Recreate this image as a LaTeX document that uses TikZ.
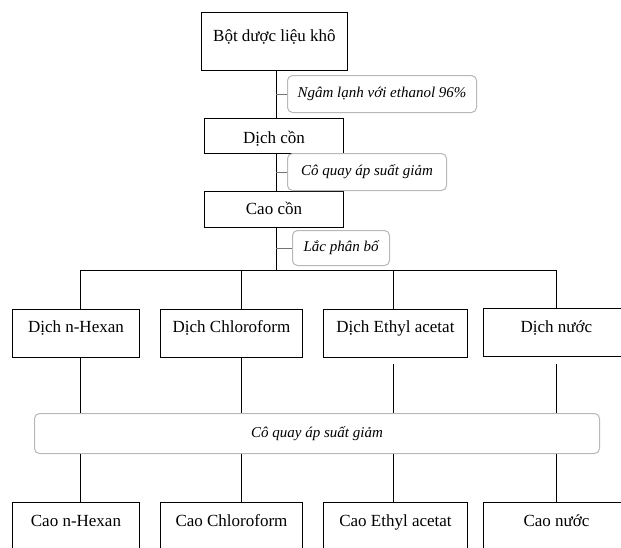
\documentclass[tikz,border=0pt]{standalone}
\usepackage{fontspec}
\setmainfont{Liberation Serif}
\newcommand{\regfont}{\fontsize{17}{20}\selectfont}
\newcommand{\labfont}{\fontsize{15}{18}\selectfont\itshape}
\begin{document}
\begin{tikzpicture}[x=1pt,y=-1pt,
  stepbox/.style={draw=black, line width=0.9pt, fill=white, inner sep=0pt,
    anchor=north west, font=\regfont},
  lbl/.style={draw=black!28, line width=1pt, fill=white, rounded corners=5pt,
    inner sep=0pt, anchor=north west, font=\labfont},
  conn/.style={draw=black, line width=0.9pt},
  tick/.style={draw=black!55, line width=1pt}]
\useasboundingbox (0,0) rectangle (621,547);
\clip (0,0) rectangle (621,547);
\fill[white] (0,0) rectangle (621,547);

% main column
\coordinate (spine) at (276,0);
\coordinate (bar) at (276,270);
\coordinate (ca) at (80,0);
\coordinate (cb) at (241,0);
\coordinate (cc) at (393,0);
\coordinate (cd) at (556,0);

% connectors (drawn first, boxes cover them)
\node[stepbox, minimum width=146pt, text height=29pt, text depth=29pt] (top) at (201,12) {Bột dược liệu khô};
\node[stepbox, minimum width=139pt, text height=25pt, text depth=10pt] (dc) at (204,118) {Dịch cồn};
\node[stepbox, minimum width=139pt, text height=23pt, text depth=13pt] (cao) at (204,191) {Cao cồn};

\draw[conn] (spine |- top.south) -- (spine |- dc.north);
\draw[conn] (spine |- dc.south) -- (spine |- cao.north);
\draw[conn] (spine |- cao.south) -- (bar);

\node[lbl, minimum width=189pt, minimum height=37pt] (l1) at (287,75) {Ngâm lạnh với ethanol 96\%};
\node[lbl, minimum width=159pt, minimum height=37pt] (l2) at (287,153) {Cô quay áp suất giảm};
\node[lbl, minimum width=97pt, minimum height=35pt] (l3) at (292,230) {Lắc phân bố};

\draw[tick] (spine |- l1.west) -- (l1.west);
\draw[tick] (spine |- l2.west) -- (l2.west);
\draw[tick] (spine |- l3.west) -- (l3.west);

% second row
\node[stepbox, minimum width=127pt, text height=23pt, text depth=25pt] (r1) at (12,309) {Dịch n-Hexan};
\node[stepbox, minimum width=142pt, text height=23pt, text depth=25pt] (r2) at (160,309) {Dịch Chloroform};
\node[stepbox, minimum width=144pt, text height=23pt, text depth=25pt] (r3) at (323,309) {Dịch Ethyl acetat};
\node[stepbox, minimum width=146pt, text height=24pt, text depth=24pt] (r4) at (483,308) {Dịch nước};

\draw[conn] (ca |- bar) -- (cd |- bar);
\draw[conn] (ca |- bar) -- (ca |- r1.north);
\draw[conn] (cb |- bar) -- (cb |- r2.north);
\draw[conn] (cc |- bar) -- (cc |- r3.north);
\draw[conn] (cd |- bar) -- (cd |- r4.north);

% process box
\node[lbl, minimum width=565pt, minimum height=40pt] (proc) at (34,413) {Cô quay áp suất giảm};

\draw[conn] (ca |- r1.south) -- (ca |- proc.north);
\draw[conn] (cb |- r2.south) -- (cb |- proc.north);
\draw[conn] ([yshift=-6pt]cc |- r3.south) -- (cc |- proc.north);
\draw[conn] ([yshift=-7pt]cd |- r4.south) -- (cd |- proc.north);

% bottom row
\node[stepbox, minimum width=127pt, text height=24pt, text depth=36pt] (b1) at (12,502) {Cao n-Hexan};
\node[stepbox, minimum width=142pt, text height=24pt, text depth=36pt] (b2) at (160,502) {Cao Chloroform};
\node[stepbox, minimum width=144pt, text height=24pt, text depth=36pt] (b3) at (323,502) {Cao Ethyl acetat};
\node[stepbox, minimum width=146pt, text height=24pt, text depth=36pt] (b4) at (483,502) {Cao nước};

\draw[conn] (ca |- proc.south) -- (ca |- b1.north);
\draw[conn] (cb |- proc.south) -- (cb |- b2.north);
\draw[conn] (cc |- proc.south) -- (cc |- b3.north);
\draw[conn] (cd |- proc.south) -- (cd |- b4.north);
\end{tikzpicture}
\end{document}
